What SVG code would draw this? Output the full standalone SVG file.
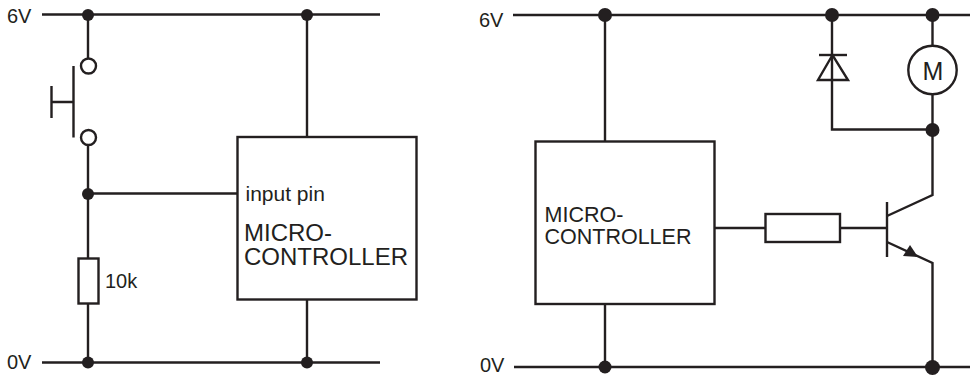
<svg xmlns="http://www.w3.org/2000/svg" width="970" height="376" viewBox="0 0 970 376">
<style>
.w{fill:none;stroke:#231f20;stroke-width:2.4}
.o{fill:#fff;stroke:#231f20;stroke-width:2.4}
.d{fill:#231f20}
text{font-family:"Liberation Sans",Arial,sans-serif;fill:#231f20}
.r{font-size:20px}
.p{font-size:21px}
.l{font-size:24px}
.m{font-size:21.500px}
</style>
<rect width="970" height="376" fill="#fff"/>
<g id="connectors">
<path class="w" d="M42 14.500H380M88 14.500V58M88 146V362M88 193.500H237M42 362.500H380M307 14.500V136M307 300V362"/>
<path class="w" d="M513 15H970M514 367H970M605 15V141M605 304V367M832 15V129.500H932M932.500 15V46M932.500 94V195L887 216M887 242L932.500 263V367M715 228H765M840 228H887"/>
</g>
<g id="rail-labels">
<text class="r" x="7" y="22.500">6V</text>
<text class="r" x="7" y="368.500">0V</text>
<text class="r" x="479" y="27">6V</text>
<text class="r" x="480" y="372">0V</text>
</g>
<g id="junctions">
<circle class="d" cx="88" cy="15" r="6"/><circle class="d" cx="307" cy="15" r="6"/>
<circle class="d" cx="88" cy="194" r="6"/><circle class="d" cx="88" cy="362.500" r="6"/><circle class="d" cx="307" cy="362.500" r="6"/>
<circle class="d" cx="605" cy="15" r="7"/><circle class="d" cx="832" cy="15" r="7"/><circle class="d" cx="932.500" cy="15" r="7"/>
<circle class="d" cx="932.500" cy="130" r="7"/><circle class="d" cx="605" cy="367" r="6.500"/><circle class="d" cx="932.500" cy="367.500" r="7.500"/>
</g>
<g id="switch">
<circle class="o" cx="88.500" cy="66" r="7.500"/>
<circle class="o" cx="88.500" cy="137.500" r="7.500"/>
<path class="w" d="M73.500 66V137.500M51.500 86V118M51.500 102H73.500"/>
</g>
<g id="resistor-10k">
<rect class="o" x="78.500" y="258.500" width="20" height="45"/>
<text class="r" x="105" y="288">10k</text>
</g>
<g id="microcontroller-left">
<rect class="o" x="237.500" y="137" width="179" height="162.500"/>
<text class="p" x="245.500" y="201">input pin</text>
<text class="l" x="244" y="241">MICRO-</text>
<text class="l" x="244" y="264.500">CONTROLLER</text>
</g>
<g id="microcontroller-right">
<rect class="o" x="535.500" y="141.500" width="179" height="162.500"/>
<text class="m" x="544.500" y="222">MICRO-</text>
<text class="m" x="544.500" y="244">CONTROLLER</text>
</g>
<g id="diode">
<path class="w" d="M832.500 55L818 80H848Z"/>
<path class="w" d="M819 55H847"/>
</g>
<g id="motor">
<circle class="o" cx="932.500" cy="70" r="24.200"/>
<text x="933" y="79.500" text-anchor="middle" style="font-size:25px">M</text>
</g>
<g id="resistor-base">
<rect class="o" x="765.500" y="214" width="74.500" height="28"/>
</g>
<g id="transistor">
<path class="w" d="M887 202V257"/>
<path class="d" d="M903 256L918 257L910 245Z"/>
</g>
</svg>
